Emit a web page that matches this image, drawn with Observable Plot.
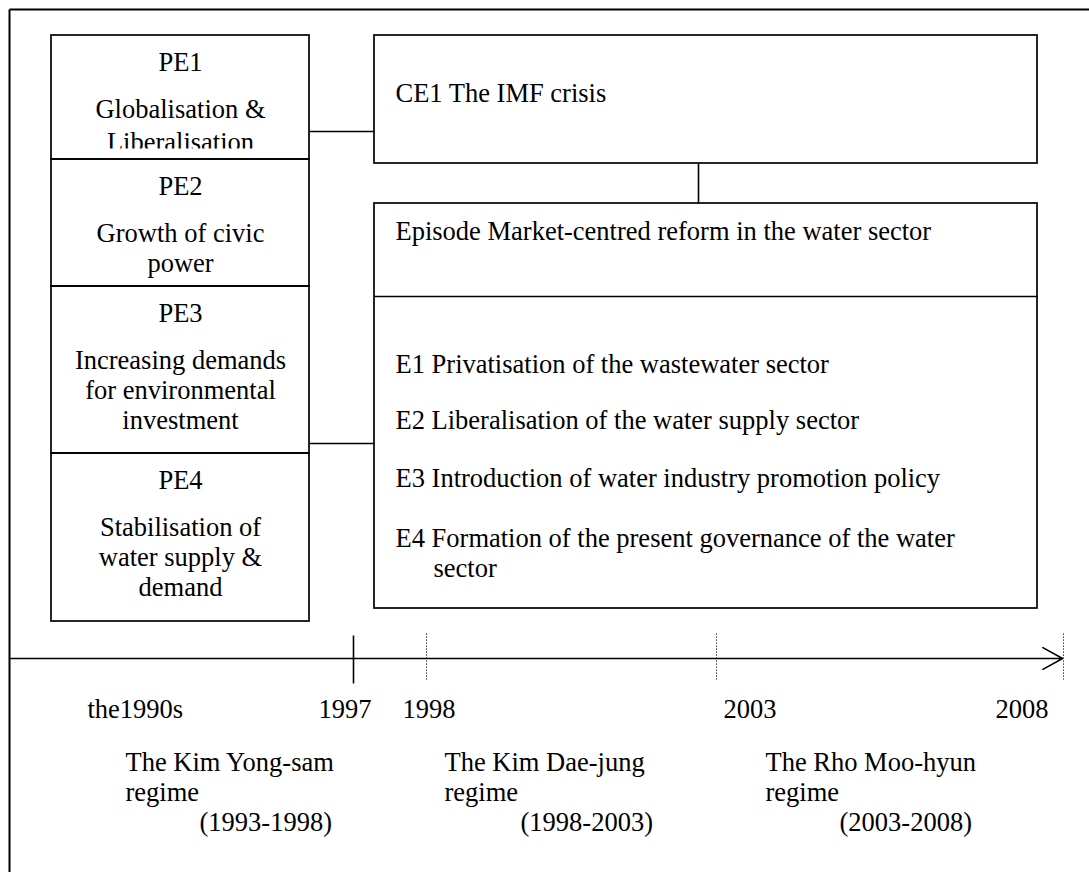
<!DOCTYPE html>
<html><head><meta charset="utf-8">
<script src="https://cdn.jsdelivr.net/npm/d3@7"></script>
<script src="https://cdn.jsdelivr.net/npm/@observablehq/plot@0.6"></script>
<style>body{margin:0;background:#fff}#chart svg{display:block}</style>
</head><body><div id="chart"></div>
<script>
// ---- content ----
const peTitles = ["PE1", "PE2", "PE3", "PE4"];
const peLines = [
  ["Globalisation &", "Liberalisation"],
  ["Growth of civic", "power"],
  ["Increasing demands", "for environmental", "investment"],
  ["Stabilisation of", "water supply &", "demand"]
];
const ceTitle = "CE1 The IMF crisis";
const episodeTitle = "Episode Market-centred reform in the water sector";
const episodeEvents = [
  ["E1 Privatisation of the wastewater sector"],
  ["E2 Liberalisation of the water supply sector"],
  ["E3 Introduction of water industry promotion policy"],
  ["E4 Formation of the present governance of the water", "sector"]
];
const timeLabels = ["the1990s", "1997", "1998", "2003", "2008"];
const regimes = [
  ["The Kim Yong-sam", "regime", "(1993-1998)"],
  ["The Kim Dae-jung", "regime", "(1998-2003)"],
  ["The Rho Moo-hyun", "regime", "(2003-2008)"]
];

// ---- layout (diagram units) ----
const W = 1089, H = 872;
const peBox = {x1: 51, x2: 309};
const peEdges = [35, 159, 286, 453, 621];
const ceBox = {x1: 374, x2: 1037, y1: 35, y2: 163};
const epBox = {x1: 374, x2: 1037, y1: 203, y2: 608, divider: 296};
const eventBaselines = [372, 428, 486, 546];
const axisY = 658;
const tickX = [353, 426, 716, 1063];
const labelX = [87, 318, 402, 723, 995];
const regimeX = [[125, 125, 199], [444, 444, 520], [765, 765, 839]];
const regimeY = [770, 800, 830];

// build tables
const rects = [];
for (let i = 0; i < 4; i++) rects.push({x1: peBox.x1, x2: peBox.x2, y1: peEdges[i], y2: peEdges[i + 1]});
rects.push({x1: ceBox.x1, x2: ceBox.x2, y1: ceBox.y1, y2: ceBox.y2});
rects.push({x1: epBox.x1, x2: epBox.x2, y1: epBox.y1, y2: epBox.y2});

const centered = [];
const leftAligned = [];
const cx = (peBox.x1 + peBox.x2) / 2;
peTitles.forEach((t, i) => {
  const top = peEdges[i];
  centered.push({t, x: cx, y: top + 35});
  peLines[i].forEach((l, j) => centered.push({t: l, x: cx, y: top + 82 + j * 30 + (i === 0 && j === 1 ? 3 : 0)}));
});
leftAligned.push({t: ceTitle, x: 395, y: 101});
leftAligned.push({t: episodeTitle, x: 395, y: 239});
episodeEvents.forEach((ls, i) => ls.forEach((l, j) => leftAligned.push({t: l, x: j ? 433 : 395, y: eventBaselines[i] + j * 30})));
timeLabels.forEach((t, i) => leftAligned.push({t, x: labelX[i], y: 717}));
regimes.forEach((ls, i) => ls.forEach((l, j) => leftAligned.push({t: l, x: regimeX[i][j], y: regimeY[j]})));

const frame = [
  {x1: 9, y1: 9, x2: W + 5, y2: 9},
  {x1: 9, y1: 9, x2: 9, y2: H + 5}
];
const lines = [
  {x1: peBox.x2, y1: 131, x2: ceBox.x1, y2: 131},
  {x1: peBox.x2, y1: 443, x2: epBox.x1, y2: 443},
  {x1: 698, y1: ceBox.y2, x2: 698, y2: epBox.y1},
  {x1: epBox.x1, y1: epBox.divider, x2: epBox.x2, y2: epBox.divider},
  {x1: tickX[0], y1: 635, x2: tickX[0], y2: 683}
];
const dotted = tickX.slice(1).map(x => ({x1: x, y1: 633, x2: x, y2: 679}));
const masks = [{x1: peBox.x1 + 1, x2: peBox.x2 - 1, y1: 148.5, y2: 158}];

const font = "'Liberation Serif','Times New Roman',serif";
const textOpts = {x: "x", y: "y", text: "t", lineAnchor: "bottom", fontFamily: font, fontSize: 26.5, fill: "#000"};
const chart = Plot.plot({
  width: W, height: H,
  margin: 0,
  x: {domain: [0, W], range: [0, W], axis: null},
  y: {domain: [0, H], range: [0, H], axis: null},
  style: {background: "#fff"},
  marks: [
    Plot.rect(rects, {x1: "x1", x2: "x2", y1: "y1", y2: "y2", fill: "#fff"}),
    Plot.text(centered, {...textOpts, textAnchor: "middle"}),
    Plot.text(leftAligned, {...textOpts, textAnchor: "start"}),
    Plot.rect(masks, {x1: "x1", x2: "x2", y1: "y1", y2: "y2", fill: "#fff"}),
    Plot.rect(rects, {x1: "x1", x2: "x2", y1: "y1", y2: "y2", fill: "none", stroke: "#000", strokeWidth: 1.7}),
    Plot.link(frame, {x1: "x1", y1: "y1", x2: "x2", y2: "y2", stroke: "#000", strokeWidth: 2}),
    Plot.link(lines, {x1: "x1", y1: "y1", x2: "x2", y2: "y2", stroke: "#000", strokeWidth: 1.6}),
    Plot.link(dotted, {x1: "x1", y1: "y1", x2: "x2", y2: "y2", stroke: "#000", strokeWidth: 1, strokeDasharray: "1.2,1.8"}),
    Plot.arrow([{x1: 10, x2: 1062, y: axisY}], {x1: "x1", x2: "x2", y1: "y", y2: "y", stroke: "#000", strokeWidth: 1.6, headLength: 21, headAngle: 58})
  ]
});
document.getElementById("chart").appendChild(chart);
</script></body></html>
